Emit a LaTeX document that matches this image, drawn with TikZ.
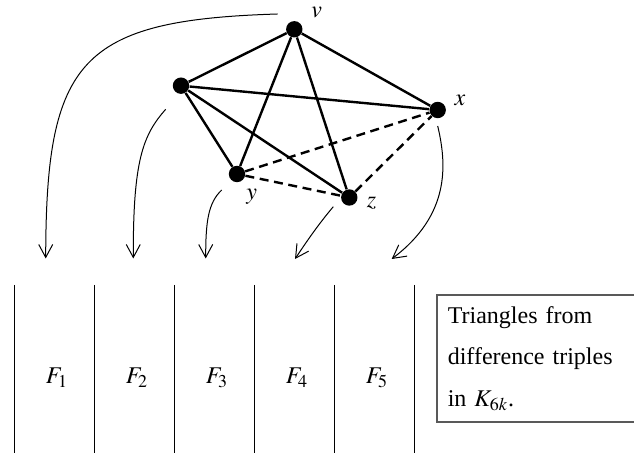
\documentclass[tikz,border=0pt]{standalone}
\usepackage{mathptmx}
\usepackage[no-math]{fontspec}
\setmainfont{Liberation Serif}
\usetikzlibrary{arrows.meta}

\begin{document}
\begin{tikzpicture}[
    x=0.5pt, y=-0.5pt,
    font=\fontsize{12}{14}\selectfont,
    vertex/.style={circle, fill=black, inner sep=0pt, minimum size=8.2pt},
    edge/.style={line width=1.2pt},
    dedge/.style={line width=1.2pt, dash pattern=on 4.5pt off 2.8pt},
    mapto/.style={-{Straight Barb[length=6.5pt, width=7pt]}, line width=0.5pt},
    column/.style={line width=0.45pt},
    note/.style={draw=black!65, line width=0.8pt, anchor=north west,
                 minimum width=99pt, minimum height=63.5pt,
                 inner xsep=5.5pt, text width=88pt, align=left,
                 font=\fontsize{12}{20.75}\selectfont},
  ]
  \useasboundingbox (0,0) rectangle (634,453);

  % ------------------------------------------------------------------
  % The K_5 with the triangle xyz drawn dashed
  % ------------------------------------------------------------------
  \node[vertex] (v) at (294.3,29.3) {};
  \node[vertex] (w) at (181,85.7) {};
  \node[vertex] (x) at (437.7,110) {};
  \node[vertex] (y) at (237,174) {};
  \node[vertex] (z) at (349.3,197.5) {};

  \node (vlab) at (316.7,12) {$v$};
  \node (xlab) at (460,100) {$x$};
  \node (ylab) at (251.7,197) {$y$};
  \node (zlab) at (371.5,203) {$z$};

  \foreach \a/\b in {w/v, w/x, w/y, w/z, v/x, v/y, v/z}
    \draw[edge] (\a) -- (\b);
  \foreach \a/\b in {y/x, y/z, z/x}
    \draw[dedge] (\a) -- (\b);

  % ------------------------------------------------------------------
  % Columns F_1 ... F_5
  % ------------------------------------------------------------------
  \foreach \i in {0,...,5} {
    \coordinate (c\i top) at (14+80*\i,285);
    \coordinate (c\i bot) at (14+80*\i,453);
    \draw[column] (c\i top) -- (c\i bot);
  }
  \foreach \i in {1,...,5}
    \node (F\i) at (-23+80*\i,378) {$F_{\i}$};

  % ------------------------------------------------------------------
  % Arrows from the graph to the columns
  % ------------------------------------------------------------------
  \coordinate (s1) at (277.7,14);    \coordinate (t1) at (45.7,258.5);
  \coordinate (s2) at (165.7,109.3); \coordinate (t2) at (133.3,258.5);
  \coordinate (s3) at (221.7,190);   \coordinate (t3) at (205.7,258.5);
  \coordinate (s4) at (333.3,206.7); \coordinate (t4) at (295,259);
  \coordinate (s5) at (437.7,126);   \coordinate (t5) at (391.7,259);

  \draw[mapto] (s1) .. controls (80,20) and (46,60) .. (t1);
  \draw[mapto] (s2) .. controls (143,135) and (133,160) .. (t2);
  \draw[mapto] (s3) .. controls (208,203) and (205.7,222) .. (t3);
  \draw[mapto] (s4) .. controls (317,226) and (305,244) .. (t4);
  \draw[mapto] (s5) .. controls (447,165) and (450,215) .. (t5);

  % caption box
  \node[note] (note) at (436,294)
       {Triangles from\\difference triples\\in $K_{6k}$.};

\end{tikzpicture}
\end{document}
